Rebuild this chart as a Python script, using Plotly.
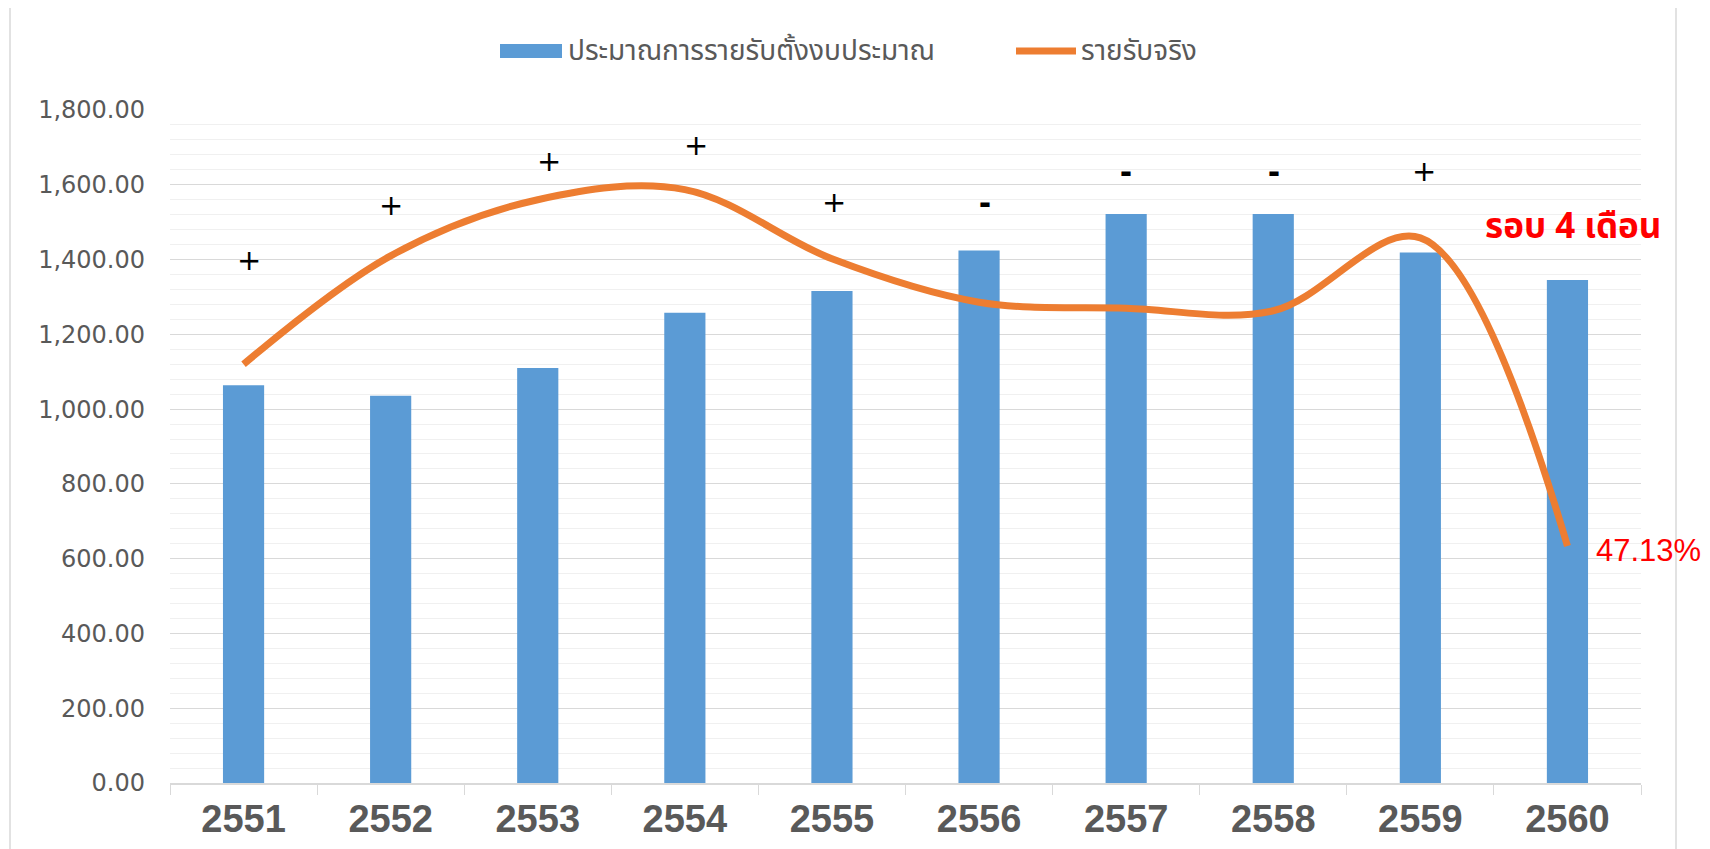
import plotly.graph_objects as go

years = ["2551", "2552", "2553", "2554", "2555", "2556", "2557", "2558", "2559", "2560"]
budget = [1064, 1036, 1110, 1258, 1316, 1424, 1522, 1522, 1419, 1345]
actual = [1120, 1410, 1560, 1587, 1402, 1286, 1270, 1263, 1458, 634]
signs = ["+", "+", "+", "+", "+", "-", "-", "-", "+", ""]
sign_y = [1400, 1547, 1664, 1706, 1554, 1556, 1637, 1637, 1637, None]
sign_dx = [5, 0, 11, 11, 2, 6, 0, 1, 4, 0]

name_budget = "ประมาณการรายรับตั้งงบประมาณ"
name_actual = "รายรับจริง"

BLUE = "#5B9BD5"
ORANGE = "#ED7D31"
GRAY = "#595959"
THAI = "Tahoma, 'Leelawadee UI', 'Noto Sans Thai', 'Noto Sans', sans-serif"

fig = go.Figure()
fig.add_trace(go.Bar(x=years, y=budget, name=name_budget, marker_color=BLUE,
                     marker_line_width=0, showlegend=False))
fig.add_trace(go.Scatter(x=years, y=actual, name=name_actual, mode="lines",
                         line=dict(color=ORANGE, width=7, shape="spline", smoothing=1.0),
                         showlegend=False))

# screen layout (page body adds an 8px offset)
OFF = 8
W, H = 1710, 849
X0, X1, Y0, Y1 = 170, 1641, 110, 783          # plot area on screen
L, T = X0 - OFF, Y0 - OFF
R = W - (X1 - OFF)
B = H - (Y1 - OFF)
pw, ph = X1 - X0, Y1 - Y0

def px(x):
    return (x - X0) / pw

def py(y):
    return (Y1 - y) / ph

annotations = []
for i, (s, yv, dx) in enumerate(zip(signs, sign_y, sign_dx)):
    if not s:
        continue
    if s == "+":
        font = dict(family="DejaVu Sans", size=29, color="#000000")
    else:
        font = dict(family="Liberation Sans", size=36, color="#000000", weight="bold")
    annotations.append(dict(x=i, y=yv, xref="x", yref="y", text=s, showarrow=False,
                            xanchor="center", yanchor="middle", xshift=dx, font=font))

annotations.append(dict(x=px(1483), y=py(227), xref="paper", yref="paper",
                        text="รอบ 4 เดือน", showarrow=False, xanchor="left", yanchor="middle",
                        font=dict(family=THAI, size=35, color="#FF0000", weight="bold")))
annotations.append(dict(x=px(1594), y=py(550), xref="paper", yref="paper",
                        text="47.13%", showarrow=False, xanchor="left", yanchor="middle",
                        font=dict(family="Liberation Sans", size=31, color="#FF0000")))
# legend texts
annotations.append(dict(x=px(566), y=py(51), xref="paper", yref="paper", text=name_budget,
                        showarrow=False, xanchor="left", yanchor="middle",
                        font=dict(family=THAI, size=28, color=GRAY)))
annotations.append(dict(x=px(1079), y=py(51), xref="paper", yref="paper", text=name_actual,
                        showarrow=False, xanchor="left", yanchor="middle",
                        font=dict(family=THAI, size=28, color=GRAY)))

shapes = [
    dict(type="rect", xref="paper", yref="paper", x0=px(10), x1=px(1676), y0=py(870), y1=py(7),
         line=dict(color="#D9D9D9", width=1.5), fillcolor="rgba(0,0,0,0)", layer="below"),
    dict(type="rect", xref="paper", yref="paper", x0=px(500), x1=px(562), y0=py(58), y1=py(44),
         line=dict(width=0), fillcolor=BLUE),
    dict(type="line", xref="paper", yref="paper", x0=px(1016), x1=px(1076), y0=py(51), y1=py(51),
         line=dict(color=ORANGE, width=7)),
]

fig.update_layout(
    width=W, height=H,
    margin=dict(l=L, r=R, t=T, b=B),
    paper_bgcolor="white", plot_bgcolor="white",
    bargap=0.72,
    showlegend=False,
    annotations=annotations,
    shapes=shapes,
    xaxis=dict(type="category", range=[-0.5, 9.5], autorange=False, showgrid=False,
               showline=True, linecolor="#D9D9D9", linewidth=1.5,
               ticks="outside", tickson="boundaries", ticklen=10, tickcolor="#D9D9D9",
               tickangle=0,
               tickfont=dict(family="Liberation Sans", size=38, color=GRAY, weight="bold"),
               ticklabelstandoff=2, zeroline=False),
    yaxis=dict(range=[0, 1800], autorange=False, dtick=200, tickformat=",.2f", showgrid=True,
               gridcolor="#D9D9D9", gridwidth=1.2, zeroline=False, showline=False,
               tickfont=dict(family="DejaVu Sans", size=24, color=GRAY),
               ticklabelstandoff=24,
               minor=dict(dtick=40, showgrid=True, gridcolor="#F0F0F0", gridwidth=1)),
)

fig.write_html("out.html")
